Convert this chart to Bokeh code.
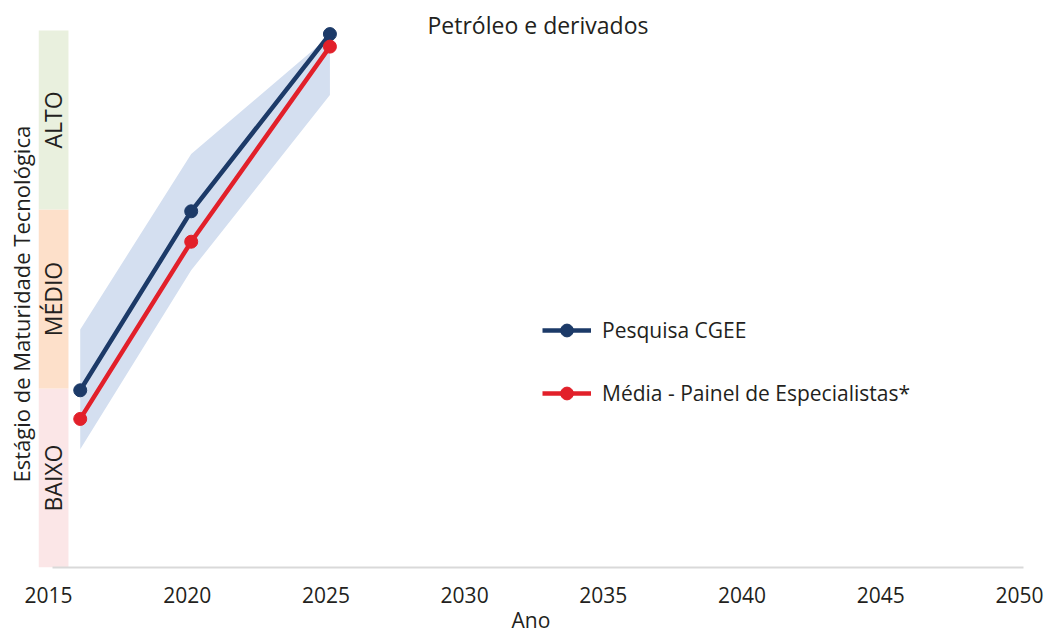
from math import pi
from bokeh.plotting import figure
from bokeh.models import Range1d, LinearAxis, FixedTicker, Label, Legend, LegendItem, Title
from bokeh.core.properties import value
from bokeh.embed import file_html
from bokeh.resources import INLINE

# ---- data ----
anos = [2016, 2020, 2025]
pesquisa_cgee = [0.99, 1.99, 2.98]
media_painel = [0.83, 1.82, 2.91]
faixa_superior = [1.33, 2.31, 2.97]
faixa_inferior = [0.66, 1.66, 2.64]
niveis = ["BAIXO", "MÉDIO", "ALTO"]
niveis_base = [0, 1, 2]
niveis_topo = [1, 2, 3]
cores_niveis = ["#fbe6e7", "#fde0ca", "#e9f0de"]
anos_ticks = [2015, 2020, 2025, 2030, 2035, 2040, 2045, 2050]

TEXT = "#231f20"
FONT = "Open Sans"
NAVY = "#1c3a68"
RED = "#e2202a"

px_ano = 972 / 35.0
x0 = 2015 - 14 / px_ano
x1 = 2050
y1 = 567 / 179.0
d = 4 / px_ano

p = figure(width=1044, height=636, output_backend="svg", toolbar_location=None,
           x_range=Range1d(x0, x1), y_range=Range1d(0, y1),
           x_axis_location=None, y_axis_location=None,
           min_border_left=37, min_border_right=21, min_border_top=0, min_border_bottom=69)
p.outline_line_color = None
p.xgrid.visible = False
p.ygrid.visible = False

# level bands
banda_dir = x0 + 30 / px_ano
p.quad(left=x0, right=banda_dir, bottom=niveis_base, top=niveis_topo,
       fill_color=cores_niveis, line_color=None)
centros = [(b + t) / 2 for b, t in zip(niveis_base, niveis_topo)]
p.text(x=[(x0 + banda_dir) / 2] * len(niveis), y=centros, text=niveis, angle=pi / 2,
       text_align="center", text_baseline="middle", text_font=value(FONT),
       text_font_size="23px", text_color=TEXT)

# range band
p.varea(x=anos, y1=faixa_inferior, y2=faixa_superior, fill_color="#d4dff0")

r1 = p.line(anos, pesquisa_cgee, color=NAVY, line_width=4.5)
s1 = p.scatter(anos, pesquisa_cgee, size=13, color=NAVY)
r2 = p.line(anos, media_painel, color=RED, line_width=4.5)
s2 = p.scatter(anos, media_painel, size=13, color=RED)

legend = Legend(items=[LegendItem(label="Pesquisa CGEE", renderers=[r1, s1]),
                       LegendItem(label="Média - Painel de Especialistas*", renderers=[r2, s2])],
                location=(504, 158))
legend.border_line_color = None
legend.background_fill_alpha = 0
legend.padding = 0
legend.margin = 0
legend.glyph_width = 49
legend.glyph_height = 32
legend.label_height = 24
legend.spacing = 31
legend.label_standoff = 11
legend.label_text_font = FONT
legend.label_text_font_size = "21px"
legend.label_text_color = TEXT
p.add_layout(legend)

# y axis title (placed beside the levels, centred on them)
ytitulo = Title(text="Estágio de Maturidade Tecnológica", align="left", offset=85,
                standoff=6, text_font=FONT, text_font_size="22px",
                text_font_style="normal", text_color=TEXT)
p.add_layout(ytitulo, "left")

# x axis (labels sit slightly left of the ticks, as in the reference)
p.extra_x_ranges = {"rotulos": Range1d(x0 + d, x1 + d)}
ax = LinearAxis(x_range_name="rotulos", ticker=FixedTicker(ticks=anos_ticks),
                bounds=(2015 + d, 2050 + d))
ax.axis_line_color = "#d9d9d9"
ax.axis_line_width = 2
ax.major_tick_line_color = None
ax.minor_tick_line_color = None
ax.major_label_standoff = 13
ax.major_label_text_font = FONT
ax.major_label_text_font_size = "21px"
ax.major_label_text_color = TEXT
ax.axis_label = "Ano"
ax.axis_label_standoff = 0
ax.axis_label_text_font = FONT
ax.axis_label_text_font_size = "21px"
ax.axis_label_text_font_style = "normal"
ax.axis_label_text_color = TEXT
p.add_layout(ax, "below")

titulo = Label(x=2015 + 486 / px_ano, y=(567 - 24) / 179.0, text="Petróleo e derivados",
               text_align="center", text_baseline="middle", text_font=FONT,
               text_font_size="23px", text_color=TEXT)
p.add_layout(titulo)

open("out.html", "w").write(file_html(p, INLINE))
